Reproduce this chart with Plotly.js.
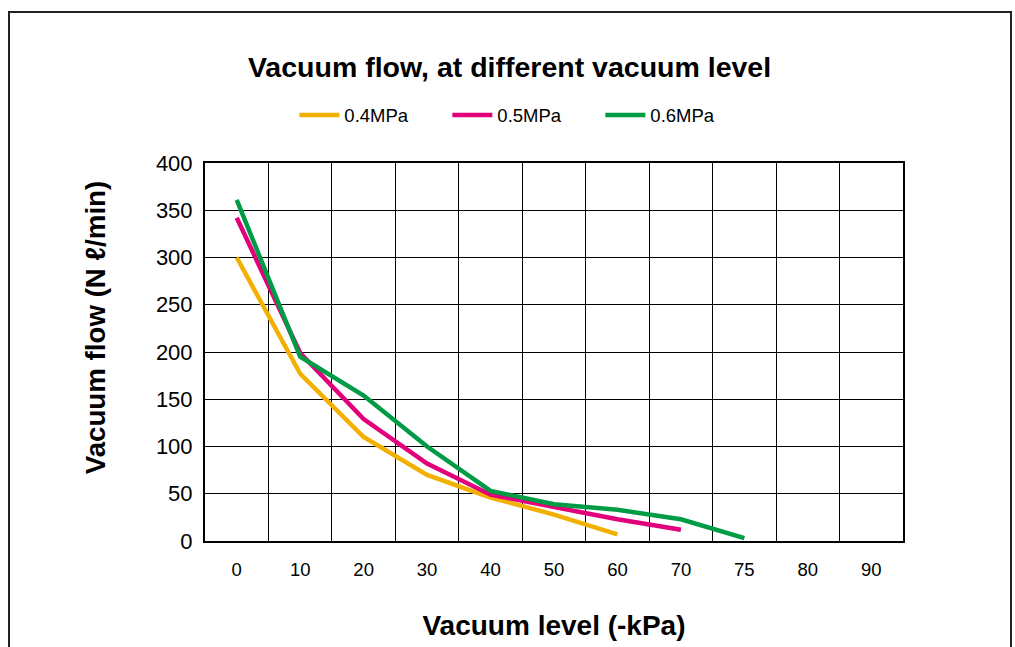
<!DOCTYPE html>
<html>
<head>
<meta charset="utf-8">
<script src="https://cdn.plot.ly/plotly-3.0.1.min.js"></script>
<style>
  html, body { margin: 0; padding: 0; background: #fff; }
  #wrap { position: relative; width: 1015px; height: 647px; overflow: hidden; }
  #chart { width: 1015px; height: 647px; }
  #frame { position: absolute; left: 8px; top: 11px; width: 1004px; height: 700px;
           border: 2px solid #222; pointer-events: none; box-sizing: border-box; }
</style>
</head>
<body>
<div id="wrap">
  <div id="chart"></div>
  <div id="frame"></div>
</div>
<script>
// Category axis (vacuum level, -kPa)
const categories = ['0', '10', '20', '30', '40', '50', '60', '70', '75', '80', '90'];

// Series
const x04 = ['0', '10', '20', '30', '40', '50', '60'];
const y04 = [300, 177, 110, 70, 46, 28, 7];

const x05 = ['0', '10', '20', '30', '40', '50', '60', '70'];
const y05 = [342, 199, 129, 82, 49, 36, 23, 12];

const x06 = ['0', '10', '20', '30', '40', '50', '60', '70', '75'];
const y06 = [361, 195, 154, 100, 53, 39, 33, 23, 3];

const seriesNames = ['0.4MPa', '0.5MPa', '0.6MPa'];
const seriesColors = ['#F2B100', '#E2007A', '#009B45'];

const yTicks = [0, 50, 100, 150, 200, 250, 300, 350, 400];

const FONT = 'Liberation Sans, Arial, Helvetica, sans-serif';

const traces = [
  { x: x04, y: y04 },
  { x: x05, y: y05 },
  { x: x06, y: y06 }
].map((s, i) => ({
  type: 'scatter',
  mode: 'lines',
  x: s.x,
  y: s.y,
  name: seriesNames[i],
  line: { color: seriesColors[i], width: 4.5 },
  hoverinfo: 'x+y+name'
}));

const layout = {
  width: 1015,
  height: 647,
  margin: { l: 205, r: 112, t: 163, b: 106 },
  paper_bgcolor: '#ffffff',
  plot_bgcolor: '#ffffff',
  font: { family: FONT, color: '#000' },
  title: {
    text: '<b>Vacuum flow, at different vacuum level</b>',
    font: { family: FONT, size: 28.5, color: '#000' },
    xref: 'container', x: 0.502, xanchor: 'center',
    yref: 'container', y: 1 - 67 / 647, yanchor: 'middle'
  },
  showlegend: true,
  legend: {
    orientation: 'h',
    x: 0.128, xanchor: 'left',
    y: 1.126, yanchor: 'middle',
    font: { family: FONT, size: 18.5, color: '#000' },
    entrywidth: 98, entrywidthmode: 'pixels',
    itemwidth: 40,
    bgcolor: 'rgba(0,0,0,0)'
  },
  annotations: [{
    text: '<b>Vacuum flow (N ℓ/min)</b>',
    textangle: -90,
    xref: 'paper', yref: 'paper',
    x: (95.5 - 205) / 698, y: (540.7 - 327.5) / 378,
    xanchor: 'center', yanchor: 'middle',
    showarrow: false,
    font: { family: FONT, size: 27.7, color: '#000' }
  }],
  xaxis: {
    type: 'category',
    categoryorder: 'array',
    categoryarray: categories,
    tickvals: categories,
    ticktext: categories,
    range: [-0.5, categories.length - 0.5],
    tickson: 'boundaries',
    showgrid: true,
    gridcolor: '#000',
    gridwidth: 1,
    showline: true,
    linecolor: '#000',
    linewidth: 2,
    mirror: true,
    ticks: '',
    ticklabelstandoff: 11,
    tickfont: { family: FONT, size: 18.5, color: '#000' },
    zeroline: false,
    fixedrange: true,
    title: {
      text: '<b>Vacuum level (-kPa)</b>',
      font: { family: FONT, size: 28, color: '#000' },
      standoff: 36
    }
  },
  yaxis: {
    range: [0, 400],
    tickvals: yTicks,
    ticktext: yTicks.map(String),
    showgrid: true,
    gridcolor: '#000',
    gridwidth: 1,
    showline: true,
    linecolor: '#000',
    linewidth: 2,
    mirror: true,
    ticks: '',
    ticklabelstandoff: 6,
    tickfont: { family: FONT, size: 22, color: '#000' },
    zeroline: false,
    fixedrange: true
  }
};

Plotly.newPlot('chart', traces, layout, { displayModeBar: false, staticPlot: false, responsive: false });
</script>
</body>
</html>
